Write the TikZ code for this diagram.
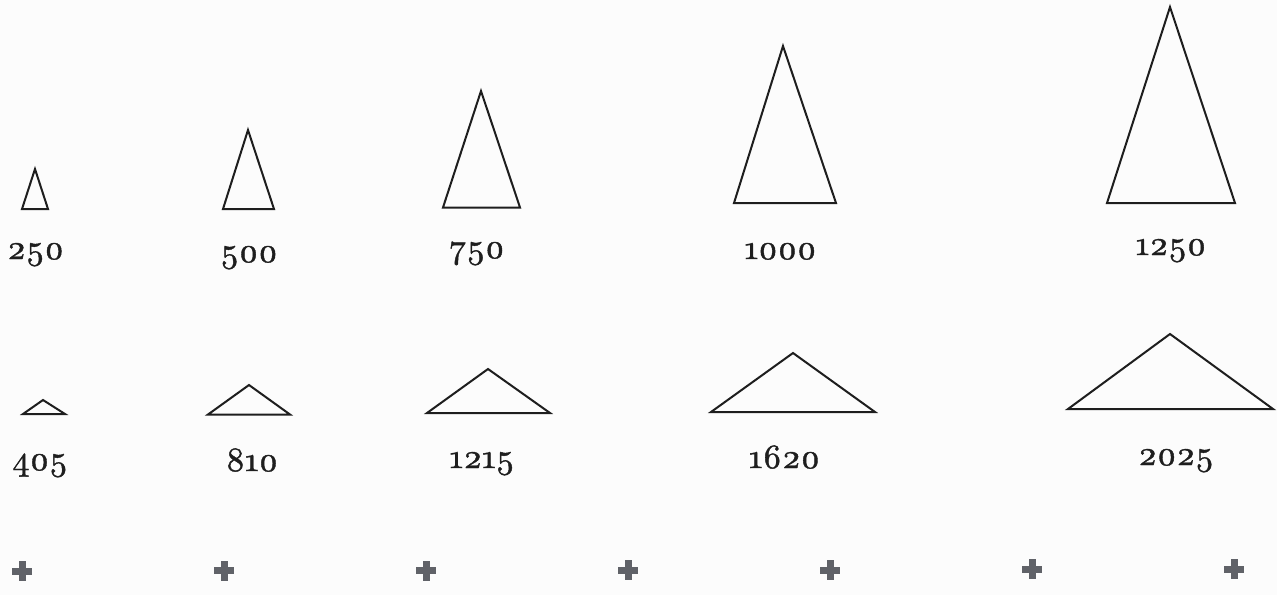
\documentclass[tikz,border=0pt]{standalone}
\usepackage{fontspec}
\newfontfamily\numfont{lmroman10-regular.otf}[Numbers=OldStyle,FakeBold=1.2]
\definecolor{bgc}{RGB}{252,252,252}
\definecolor{linec}{RGB}{30,30,30}
\definecolor{plusc}{RGB}{96,98,104}
\begin{document}
\begin{tikzpicture}[x=1pt,y=-1pt,
  tri/.style={draw=linec,line width=2pt,line join=miter},
  lbl/.style={anchor=base,inner sep=0pt,font=\numfont\fontsize{34}{40}\selectfont,text=linec},
  plusmark/.pic={\fill[plusc] (-10,-3.5) rectangle (10,3.5); \fill[plusc] (-3.5,-10) rectangle (3.5,10);}]
\fill[bgc] (0,0) rectangle (1277,595);
\useasboundingbox (0,0) rectangle (1277,595);
% top row triangles
\coordinate (a1) at (35,169);  \coordinate (b1) at (22,209);  \coordinate (c1) at (48,209);
\coordinate (a2) at (248,130); \coordinate (b2) at (223,209); \coordinate (c2) at (274,209);
\coordinate (a3) at (481,91);  \coordinate (b3) at (443,207.5); \coordinate (c3) at (520,207.5);
\coordinate (a4) at (783,46);  \coordinate (b4) at (734,203); \coordinate (c4) at (836,203);
\coordinate (a5) at (1170,7);  \coordinate (b5) at (1107,203); \coordinate (c5) at (1235,203);
\foreach \i in {1,...,5} {\draw[tri] (a\i) -- (b\i) -- (c\i) -- cycle;}
% bottom row triangles
\coordinate (d1) at (43,400);   \coordinate (e1) at (23,414);   \coordinate (f1) at (65,414);
\coordinate (d2) at (249,385);  \coordinate (e2) at (208,414.5); \coordinate (f2) at (290,414.5);
\coordinate (d3) at (488,369);  \coordinate (e3) at (427,413);  \coordinate (f3) at (550,413);
\coordinate (d4) at (793,353);  \coordinate (e4) at (711,412);  \coordinate (f4) at (875,412);
\coordinate (d5) at (1170,334); \coordinate (e5) at (1068,409); \coordinate (f5) at (1273,409);
\foreach \i in {1,...,5} {\draw[tri] (d\i) -- (e\i) -- (f\i) -- cycle;}
% labels
\node[lbl] (l250) at (35.5,259) {250};
\node[lbl] (l500) at (249,262) {500};
\node[lbl] (l750) at (477,258) {750};
\node[lbl] (l1000) at (780.5,259) {1000};
\node[lbl] (l1250) at (1171,255) {1250};
\node[lbl] (l405) at (40,470) {405};
\node[lbl] (l810) at (252,471) {810};
\node[lbl] (l1215) at (482,468) {1215};
\node[lbl] (l1620) at (784.5,468) {1620};
\node[lbl] (l2025) at (1176,465) {2025};
% plus marks
\foreach \x/\y [count=\k] in {22/571,224/570.5,426/570.5,628/570,830/570,1032/569,1234/569}
  {\pic (p\k) at (\x,\y) {plusmark};}
\end{tikzpicture}
\end{document}
